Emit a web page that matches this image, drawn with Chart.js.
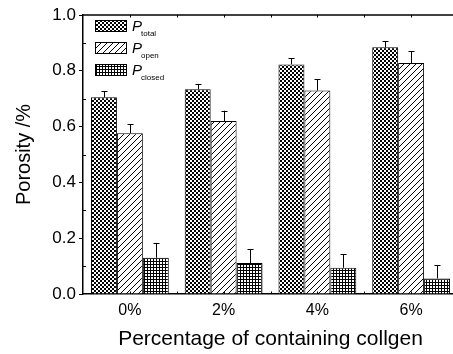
<!DOCTYPE html>
<html>
<head>
<meta charset="utf-8">
<script src="https://cdn.jsdelivr.net/npm/chart.js@4/dist/chart.umd.min.js"></script>
<style>
html,body{margin:0;padding:0;background:#fff;overflow:hidden;}
#wrap{width:460px;height:354px;}
</style>
</head>
<body>
<div id="wrap"><canvas id="c" width="460" height="354"></canvas></div>
<script>
// ---- data ----
const categories = ['0%', '2%', '4%', '6%'];
const seriesNames = ['total', 'open', 'closed'];
const totalValues = [0.705, 0.734, 0.823, 0.884];
const totalErrors = [0.022, 0.019, 0.022, 0.022];
const openValues = [0.576, 0.620, 0.729, 0.828];
const openErrors = [0.032, 0.037, 0.040, 0.042];
const closedValues = [0.130, 0.111, 0.094, 0.056];
const closedErrors = [0.053, 0.050, 0.048, 0.047];
const yTicks = [0.0, 0.2, 0.4, 0.6, 0.8, 1.0];
const yTitle = 'Porosity /%';
const xTitle = 'Percentage of containing collgen';

const FONT = "'Liberation Sans', Arial, Helvetica, sans-serif";

function makePattern(kind) {
  const c = document.createElement('canvas');
  const g = c.getContext('2d');
  if (kind === 'check') {
    c.width = 4; c.height = 4;
    g.fillStyle = '#fff'; g.fillRect(0, 0, 4, 4);
    g.fillStyle = '#000';
    g.fillRect(0, 0, 2, 2); g.fillRect(2, 2, 2, 2);
  } else if (kind === 'diag') {
    c.width = 6; c.height = 6;
    g.fillStyle = '#fff'; g.fillRect(0, 0, 6, 6);
    g.fillStyle = '#000';
    for (let i = 0; i < 6; i++) g.fillRect(5 - i, i, 1, 1);
  } else {
    c.width = 3; c.height = 3;
    g.fillStyle = '#fff'; g.fillRect(0, 0, 3, 3);
    g.fillStyle = '#000';
    g.fillRect(0, 0, 3, 1); g.fillRect(0, 0, 1, 3);
  }
  return document.getElementById('c').getContext('2d').createPattern(c, 'repeat');
}
const patterns = [makePattern('check'), makePattern('diag'), makePattern('grid')];

const errorsBySeries = [totalErrors, openErrors, closedErrors];

const errorBars = {
  id: 'errorBars',
  afterDatasetsDraw(chart) {
    const ctx = chart.ctx;
    const y = chart.scales.y;
    ctx.save();
    ctx.strokeStyle = '#000';
    ctx.lineWidth = 1;
    chart.data.datasets.forEach((ds, di) => {
      const meta = chart.getDatasetMeta(di);
      meta.data.forEach((bar, i) => {
        const v = ds.data[i];
        const e = errorsBySeries[di][i];
        const x = Math.round(bar.x) + 0.5;
        const yTop = y.getPixelForValue(v + e);
        const yBar = y.getPixelForValue(v);
        ctx.beginPath();
        ctx.moveTo(x, yBar);
        ctx.lineTo(x, yTop);
        ctx.moveTo(x - 3, Math.round(yTop) + 0.5);
        ctx.lineTo(x + 3, Math.round(yTop) + 0.5);
        ctx.stroke();
      });
    });
    ctx.restore();
  }
};

const frameAndLegend = {
  id: 'frameAndLegend',
  afterDraw(chart) {
    const ctx = chart.ctx;
    const a = chart.chartArea;
    const xs = chart.scales.x, ys = chart.scales.y;
    ctx.save();
    ctx.strokeStyle = '#000';
    // top frame line
    ctx.lineWidth = 1.5;
    ctx.beginPath();
    ctx.moveTo(a.left, a.top);
    ctx.lineTo(chart.width, a.top);
    ctx.stroke();
    // minor inward y ticks
    ctx.lineWidth = 1;
    for (let i = 0; i < yTicks.length - 1; i++) {
      const py = Math.round(ys.getPixelForValue((yTicks[i] + yTicks[i + 1]) / 2)) + 0.5;
      ctx.beginPath();
      ctx.moveTo(a.left, py); ctx.lineTo(a.left + 3, py); ctx.stroke();
    }
    // inward x ticks at category boundaries/centres
    for (let i = 0; i < categories.length; i++) {
      const c = xs.getPixelForValue(i);
      const half = (xs.getPixelForValue(1) - xs.getPixelForValue(0)) / 2;
      [c, c + half].forEach(px => {
        px = Math.round(px) + 0.5;
        ctx.beginPath();
        ctx.moveTo(px, a.top); ctx.lineTo(px, a.top + 2.5);
        ctx.moveTo(px, a.bottom); ctx.lineTo(px, a.bottom - 2.5);
        ctx.stroke();
      });
    }
    // legend
    const lx = a.left + 12, ly0 = a.top + 5, step = 22;
    chart.data.datasets.forEach((ds, di) => {
      const by = ly0 + di * step;
      ctx.fillStyle = patterns[di];
      ctx.fillRect(lx, by, 32, 12);
      ctx.lineWidth = 1;
      ctx.strokeStyle = '#000';
      ctx.strokeRect(lx + 0.5, by + 0.5, 31, 11);
      ctx.fillStyle = '#000';
      ctx.textBaseline = 'alphabetic';
      ctx.textAlign = 'left';
      ctx.font = 'italic 15px ' + FONT;
      ctx.fillText('P', lx + 37, by + 11);
      ctx.font = '8px ' + FONT;
      ctx.fillText(seriesNames[di], lx + 46, by + 16);
    });
    ctx.restore();
  }
};

const ds = (label, data, i) => ({
  label, data,
  backgroundColor: patterns[i],
  borderColor: '#000',
  borderWidth: 1,
  borderSkipped: 'bottom',
  categoryPercentage: 0.83,
  barPercentage: 1.0
});

new Chart(document.getElementById('c'), {
  type: 'bar',
  data: {
    labels: categories,
    datasets: [
      ds('P total', totalValues, 0),
      ds('P open', openValues, 1),
      ds('P closed', closedValues, 2)
    ]
  },
  options: {
    responsive: false,
    animation: false,
    devicePixelRatio: 1,
    layout: { padding: { top: 15, right: 2, left: 0, bottom: 0 } },
    plugins: { legend: { display: false }, tooltip: { enabled: false } },
    scales: {
      x: {
        grid: { display: false, drawTicks: false },
        border: { display: true, color: '#000', width: 1.5 },
        ticks: { color: '#000', font: { family: FONT, size: 16 }, padding: 7 },
        title: { display: true, text: xTitle, color: '#000', font: { family: FONT, size: 21 }, padding: 2.5 },
        afterFit(s) { s.height = 60; }
      },
      y: {
        min: 0, max: 1.0,
        afterBuildTicks(s) { s.ticks = yTicks.map(v => ({ value: v })); },
        grid: { drawOnChartArea: false, drawTicks: true, tickLength: 4, color: '#000', lineWidth: 1 },
        border: { display: true, color: '#000', width: 1.5 },
        ticks: { color: '#000', font: { family: FONT, size: 17 }, padding: 3, callback: v => Number(v).toFixed(1) },
        title: { display: true, text: yTitle, color: '#000', font: { family: FONT, size: 20 }, padding: 12 },
        afterFit(s) { s.width = 83; }
      }
    }
  },
  plugins: [errorBars, frameAndLegend]
});
</script>
</body>
</html>
